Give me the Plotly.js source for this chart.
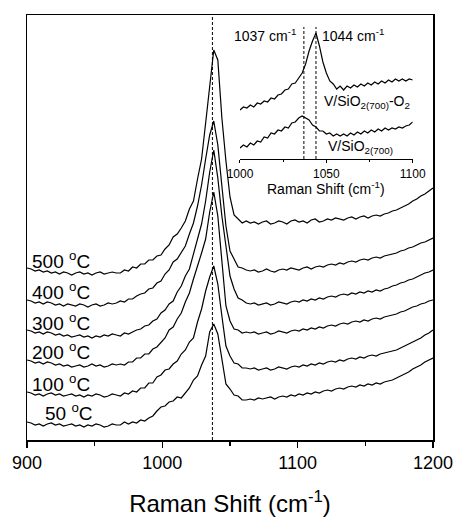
<!DOCTYPE html>
<html><head><meta charset="utf-8">
<script src="https://cdn.plot.ly/plotly-3.0.1.min.js"></script>
<style>html,body{margin:0;padding:0;background:#fff}#chart{width:459px;height:517px}</style>
</head><body><div id="chart"></div>
<script>
const ramanShift = [900,903,906,909,912,915,918,921,924,927,930,933,936,939,942,945,948,951,954,957,960,963,966,969,972,975,978,981,984,987,990,993,996,999,1002,1005,1008,1011,1014,1017,1020,1023,1026,1029,1032,1035,1038,1041,1044,1047,1050,1053,1056,1059,1062,1065,1068,1071,1074,1077,1080,1083,1086,1089,1092,1095,1098,1101,1104,1107,1110,1113,1116,1119,1122,1125,1128,1131,1134,1137,1140,1143,1146,1149,1152,1155,1158,1161,1164,1167,1170,1173,1176,1179,1182,1185,1188,1191,1194,1197,1200];

const spec500 = [172,171,169,170,168,169,167,168,166,168,167,165,167,168,166,167,165,167,168,166,167,168,167,
167,170,169,173,172,176,176,180,180,184,185,
191,195,203,206,212,219,231,239,261,281,317,355,
390,380,322,279,243,225,221,217,
219,217,218,216,218,219,216,217,219,218,216,219,220,218,219,217,220,221,218,219,221,220,222,
221,220,222,223,221,223,224,222,224,225,224,226,227,229,230,232,234,236,239,241,244,246,249,252];

const spec400 = [140,139,137,138,136,138,137,135,136,134,136,135,134,136,135,133,135,136,134,135,137,136,137,
139,138,141,141,144,146,147,151,152,157,159,
166,170,178,181,188,194,206,217,234,255,281,305,
319,295,254,214,189,181,173,172,
170,169,170,168,169,171,169,168,170,171,170,172,171,170,172,173,171,173,174,173,175,176,175,
177,176,178,179,178,180,181,180,182,183,182,184,185,186,187,189,190,192,193,195,197,198,200,202];

const spec300 = [110,109,107,108,106,108,107,105,106,104,105,103,104,105,103,104,102,104,103,105,104,106,105,
104,107,106,108,110,111,114,115,119,121,127,
130,136,139,148,154,164,171,186,199,216,239,268,
290,262,224,196,164,151,142,140,
137,136,137,135,136,137,135,136,138,137,136,138,139,138,140,139,141,140,142,141,143,144,143,
145,146,145,147,146,148,147,149,148,150,149,151,152,154,155,157,158,160,161,163,165,167,168,170];

const spec200 = [80,79,77,78,76,78,77,75,76,74,75,73,74,75,73,74,76,74,75,73,74,76,75,
76,75,78,78,82,82,86,86,91,93,98,
102,110,113,121,127,138,147,161,173,187,201,228,
248,224,179,134,119,111,110,107,
108,107,108,106,107,108,106,107,109,108,107,109,110,109,111,110,112,111,113,112,114,115,114,
116,117,116,118,119,118,120,119,121,122,121,123,124,125,126,128,129,131,133,134,136,137,139,140];

const spec100 = [48,47,45,46,44,46,47,45,46,44,45,46,44,45,43,45,44,46,45,43,44,46,45,
44,47,46,49,48,52,52,57,57,63,65,
70,71,76,79,86,90,98,102,118,131,149,163,
174,156,124,94,84,77,76,72,
72,71,72,70,71,72,70,71,73,72,71,73,74,73,75,74,76,75,77,76,78,79,78,
80,79,81,82,81,83,82,84,85,84,86,87,88,89,90,92,94,96,98,100,102,105,107,110];

const spec50 = [18,17,15,16,14,16,17,15,16,14,15,16,14,15,13,15,14,16,15,13,14,16,15,
15,18,16,18,17,20,19,22,24,29,33,
34,38,39,43,42,47,52,60,64,75,84,108,
116,106,79,56,51,45,44,40,
40,41,40,42,41,42,43,41,43,44,43,45,44,46,45,47,46,48,47,49,50,49,51,
52,51,53,54,53,55,54,56,55,57,56,58,59,60,62,64,66,68,71,73,75,78,80,82];

const tempLabels = ['500 <sup>o</sup>C','400 <sup>o</sup>C','300 <sup>o</sup>C','200 <sup>o</sup>C','100 <sup>o</sup>C','50 <sup>o</sup>C'];
const labelX = [902,902,902,902,902,912];
const labelY = [180,149,118,89,57,28];
const mainMark = 1037;

const insetShift = [1000,1002,1004,1006,1008,1010,1012,1014,1016,1018,1020,1022,1024,1026,1028,1030,1032,1034,1036,1038,1040,1042,1044,1046,1048,1050,1052,1054,1056,1058,1060,1062,1064,1066,1068,1070,1072,1074,1076,1078,1080,1082,1084,1086,1088,1090,1092,1094,1096,1098,1100];
const insetO2 = [49,52,51,54,52,56,55,58,57,61,60,64,65,69,70,75,76,81,86,95,108,118,126,113,97,86,78,75,70,73,69,73,71,74,72,75,73,76,74,77,75,78,76,79,77,80,78,80,78,80,79];
const insetBare = [11,14,12,16,14,18,17,22,21,26,25,29,28,32,31,36,37,41,43,41,39,34,32,28,28,25,26,23,25,23,25,23,26,24,27,25,28,26,29,27,30,28,31,29,31,30,32,31,33,34,37];
const insetMarks = [1037,1044];
const insetLabels = ['1037 cm<sup>-1</sup>','1044 cm<sup>-1</sup>','V/SiO<sub>2(700)</sub>-O<sub>2</sub>','V/SiO<sub>2(700)</sub>'];
const insetTitle = 'Raman Shift (cm<sup>-1</sup>)';

const mainSeries = [spec500,spec400,spec300,spec200,spec100,spec50];
const traces = mainSeries.map(s => ({x: ramanShift, y: s, type:'scatter', mode:'lines',
  line:{color:'#000', width:1.2}, xaxis:'x', yaxis:'y', hoverinfo:'skip'}));
[insetO2, insetBare].forEach(s => traces.push({x: insetShift, y: s, type:'scatter', mode:'lines',
  line:{color:'#000', width:1.2}, xaxis:'x2', yaxis:'y2', hoverinfo:'skip'}));

const annotations = tempLabels.map((t,i) => ({text:t, x:labelX[i], y:labelY[i], xref:'x', yref:'y',
  xanchor:'left', yanchor:'middle', showarrow:false, font:{size:19, color:'#000'}}));
annotations.push({text:insetLabels[0], x:1033.6, y:124, xref:'x2', yref:'y2', xanchor:'right', yanchor:'middle', showarrow:false, font:{size:14}});
annotations.push({text:insetLabels[1], x:1046.3, y:124, xref:'x2', yref:'y2', xanchor:'left', yanchor:'middle', showarrow:false, font:{size:14}});
annotations.push({text:insetLabels[2], x:1047.3, y:57, xref:'x2', yref:'y2', xanchor:'left', yanchor:'middle', showarrow:false, font:{size:14}});
annotations.push({text:insetLabels[3], x:1049.8, y:12, xref:'x2', yref:'y2', xanchor:'left', yanchor:'middle', showarrow:false, font:{size:14}});
annotations.push({text:insetTitle, x:1050, y:0.592, xref:'x2', yref:'paper', xanchor:'center', yanchor:'middle', showarrow:false, font:{size:14}});

const shapes = [{type:'line', xref:'x', yref:'paper', x0:mainMark, x1:mainMark, y0:0, y1:1,
  line:{color:'#000', width:1, dash:'3px,2px'}}];
insetMarks.forEach(m => shapes.push({type:'line', xref:'x2', yref:'y2', x0:m, x1:m, y0:0, y1:132,
  line:{color:'#000', width:1, dash:'3px,2px'}}));

const layout = {
  width:459, height:517, margin:{l:27, r:26, t:15, b:77},
  paper_bgcolor:'#fff', plot_bgcolor:'rgba(0,0,0,0)', showlegend:false,
  font:{family:'Liberation Sans, Arial, sans-serif', color:'#000'},
  xaxis:{range:[900,1200], tickmode:'linear', tick0:900, dtick:100, ticks:'outside', ticklen:6, tickwidth:1.5,
    tickcolor:'#000', showline:true, linewidth:1.5, linecolor:'#000', mirror:true, showgrid:false, zeroline:false,
    tickfont:{size:18}, title:{text:'Raman Shift (cm<sup>-1</sup>)', font:{size:24}, standoff:24},
    minor:{tick0:900, dtick:50, ticks:'outside', ticklen:4, tickwidth:1.5, tickcolor:'#000'}, anchor:'y'},
  yaxis:{range:[0,425], showline:true, mirror:true, linewidth:1.5, linecolor:'#000', showticklabels:false,
    ticks:'', showgrid:false, zeroline:false},
  xaxis2:{domain:[0.5246,0.950], anchor:'y2', range:[1000,1100], tickmode:'linear', tick0:1000, dtick:50,
    ticks:'outside', ticklen:3, tickwidth:1, tickcolor:'#000', showline:true, linewidth:1.3, linecolor:'#000',
    tickfont:{size:12},
    minor:{tick0:1000, dtick:25, ticks:'outside', ticklen:2, tickcolor:'#000'}, showgrid:false, zeroline:false},
  yaxis2:{domain:[0.6612,0.9718], anchor:'x2', range:[0,132], visible:false},
  shapes:shapes, annotations:annotations
};
Plotly.newPlot('chart', traces, layout, {displayModeBar:false, staticPlot:true});
</script></body></html>
